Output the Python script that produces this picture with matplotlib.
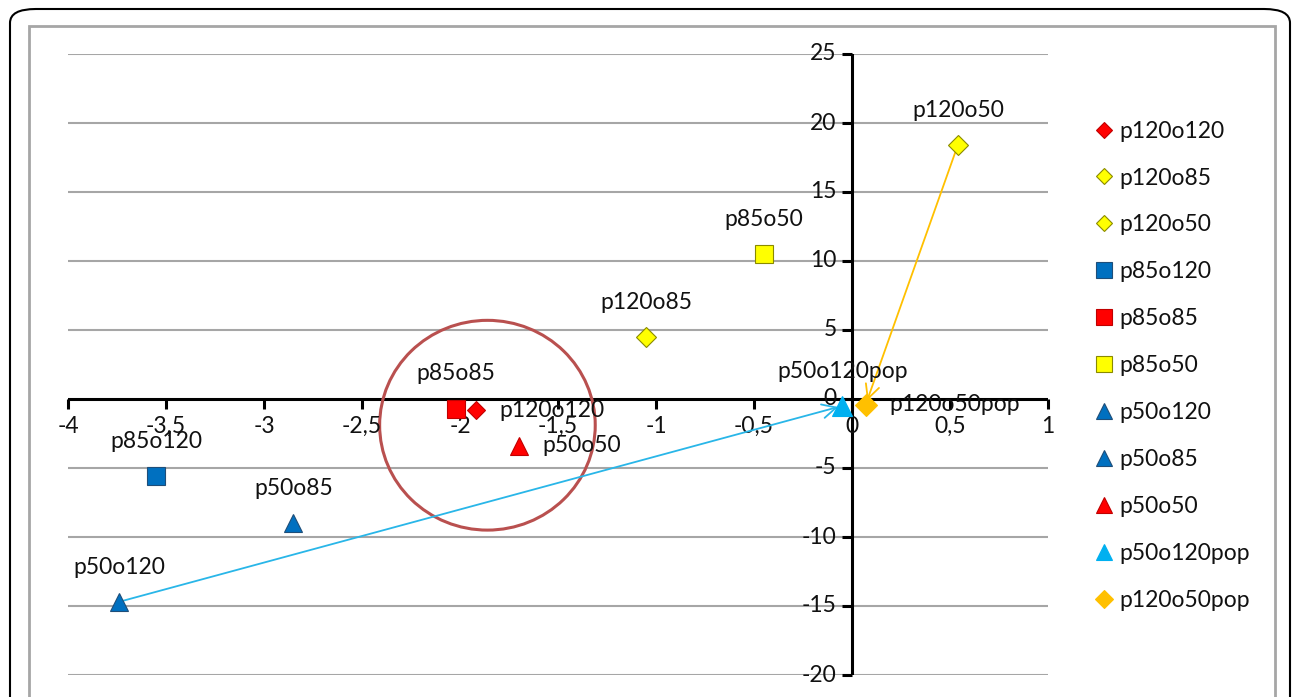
import matplotlib
matplotlib.use("Agg")
import matplotlib.pyplot as plt
from matplotlib.patches import Ellipse, FancyBboxPatch, Rectangle

plt.rcParams['font.family'] = ['Lato', 'DejaVu Sans']

names = ["p120o120", "p120o85", "p120o50", "p85o120", "p85o85", "p85o50",
         "p50o120", "p50o85", "p50o50", "p50o120pop", "p120o50pop"]
xs = [-1.92, -1.05, 0.54, -3.55, -2.02, -0.45, -3.74, -2.85, -1.70, -0.05, 0.07]
ys = [-0.8, 4.5, 18.4, -5.6, -0.7, 10.5, -14.7, -9.0, -3.4, -0.5, -0.4]
markers = ["D", "D", "D", "s", "s", "s", "^", "^", "^", "^", "D"]
faces = ["#FF0000", "#FFFF00", "#FFFF00", "#0070C0", "#FF0000", "#FFFF00",
         "#0070C0", "#0070C0", "#FF0000", "#00B0F0", "#FFC000"]
edges = ["#C00000", "#8A8A00", "#8A8A00", "#1F4E79", "#C00000", "#8A8A00",
         "#1F4E79", "#1F4E79", "#C00000", "#00B0F0", "#FFC000"]
sizes = [9, 10, 10, 13, 13, 13, 13, 13, 13, 14, 11]
placements = ["right", "above", "above", "above", "above", "above",
              "above", "above", "right", "above", "right"]

xticks = [-4, -3.5, -3, -2.5, -2, -1.5, -1, -0.5, 0, 0.5, 1]
xticklabels = ["-4", "-3,5", "-3", "-2,5", "-2", "-1,5", "-1", "-0,5", "0", "0,5", "1"]
yticks = [-20, -15, -10, -5, 0, 5, 10, 15, 20, 25]

arrows = [("p50o120", "p50o120pop", "#29B6E8"), ("p120o50", "p120o50pop", "#FFC000")]

FS = 16.5
TXT = "#111111"
W, H = 1293, 697
fig = plt.figure(figsize=(W / 100, H / 100), dpi=100)
fig.patch.set_facecolor("white")

# borders
fig.patches.append(FancyBboxPatch((10 / W, -0.1), 1280 / W, 1 - 9 / H + 0.1,
                                  boxstyle="round,pad=0,rounding_size=0.02",
                                  transform=fig.transFigure, fill=False,
                                  edgecolor="black", linewidth=1.5, zorder=0))
fig.patches.append(Rectangle((29 / W, -0.1), 1246 / W, 1 - 26 / H + 0.1,
                             transform=fig.transFigure, fill=False,
                             edgecolor="#A6A6A6", linewidth=2, zorder=0))

ax = fig.add_axes([68 / W, 1 - 675 / H, 980 / W, 621 / H])
ax.set_xlim(-4, 1)
ax.set_ylim(-20, 25)
ax.patch.set_alpha(0)
for s in ["top", "right", "left", "bottom"]:
    ax.spines[s].set_visible(False)
ax.set_xticks([])
ax.set_yticks([])

for y in yticks:
    if y != 0:
        ax.axhline(y, color="#A6A6A6", linewidth=1.5, zorder=0)

ax.axhline(0, color="black", linewidth=2.2, zorder=1)
ax.axvline(0, color="black", linewidth=2.2, zorder=1)

# ticks and tick labels
for xt, lab in zip(xticks, xticklabels):
    ax.plot([xt], [0], marker=3, markersize=7, color="black",
            markeredgewidth=2.2, zorder=1, clip_on=False, linestyle="none")
    ax.annotate(lab, xy=(xt, 0), xytext=(0, -12), textcoords="offset points",
                ha="center", va="top", fontsize=FS, color=TXT)
for yt in yticks:
    ax.plot([0], [yt], marker=0, markersize=7, color="black",
            markeredgewidth=2.2, zorder=1, clip_on=False, linestyle="none")
    ax.annotate(str(yt), xy=(0, yt), xytext=(-11, 0), textcoords="offset points",
                ha="right", va="center", fontsize=FS, color=TXT)

# circle
ax.add_patch(Ellipse((-1.86, -1.9), 1.10, 15.2, fill=False,
                     edgecolor="#B9504F", linewidth=2.2, zorder=2))

# arrows
idx = {n: i for i, n in enumerate(names)}
for a, b, col in arrows:
    i, j = idx[a], idx[b]
    ax.annotate("", xy=(xs[j], ys[j]), xytext=(xs[i], ys[i]),
                arrowprops=dict(arrowstyle="->,head_length=1.0,head_width=0.5",
                                color=col, linewidth=1.3, shrinkA=0, shrinkB=3),
                zorder=3)

# points and labels
for n, x, y, m, fc, ec, ms, pl in zip(names, xs, ys, markers, faces, edges, sizes, placements):
    ax.plot([x], [y], marker=m, markersize=ms, markerfacecolor=fc,
            markeredgecolor=ec, markeredgewidth=0.8, linestyle="none",
            label=n, zorder=4)
    if pl == "above":
        ax.annotate(n, xy=(x, y), xytext=(0, 25), textcoords="offset points",
                    ha="center", va="center", fontsize=FS, color=TXT, zorder=5)
    else:
        ax.annotate(n, xy=(x, y), xytext=(17, 0), textcoords="offset points",
                    ha="left", va="center", fontsize=FS, color=TXT, zorder=5)

handles, labels = ax.get_legend_handles_labels()
leg = fig.legend(handles, labels, loc="upper left",
                 bbox_to_anchor=(1074 / W, 1 - 100 / H), frameon=False,
                 fontsize=FS, labelspacing=1.13, handlelength=0.8,
                 handletextpad=0.3, markerscale=0.85)
for t in leg.get_texts():
    t.set_color(TXT)

fig.savefig("out.png", dpi=100, facecolor="white")
